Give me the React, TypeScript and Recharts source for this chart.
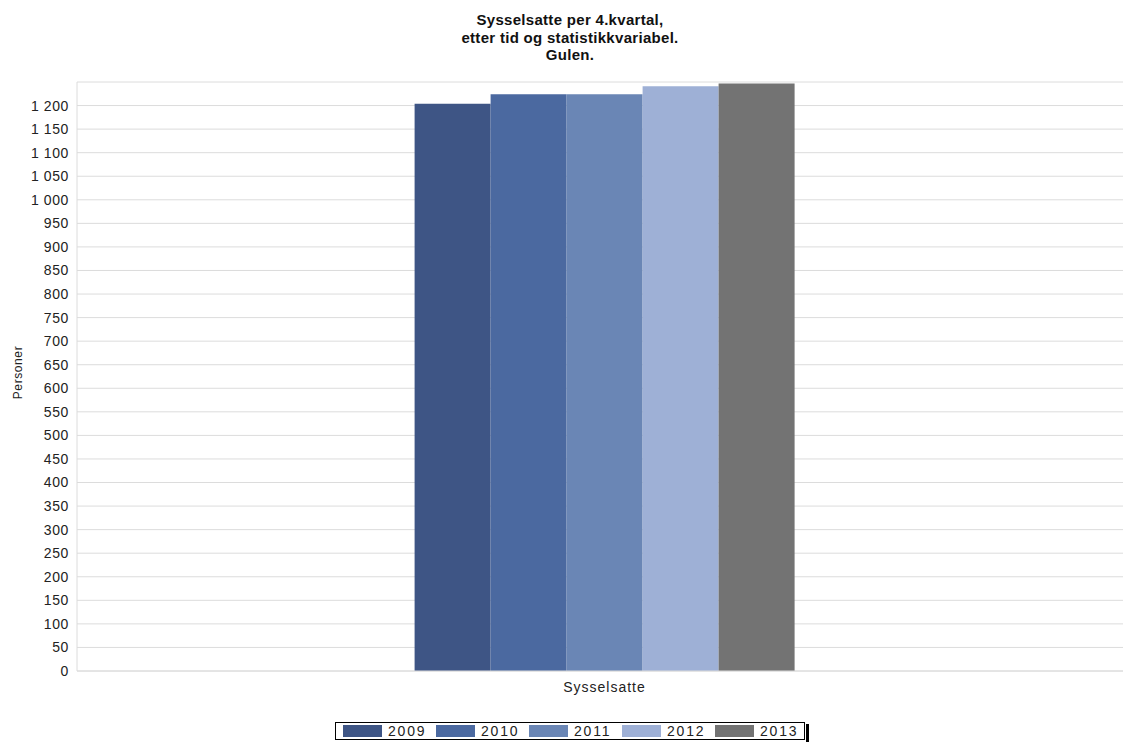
import React from 'react';
import { BarChart, Bar, XAxis, YAxis, CartesianGrid, Legend } from 'recharts';

const categories = ['Sysselsatte'];
const years = ['2009', '2010', '2011', '2012', '2013'];
const values = [1204, 1224, 1224, 1241, 1247];
const colors = ['#3e5585', '#4b69a0', '#6a86b5', '#9eb0d6', '#737373'];
const yTicks = [0, 50, 100, 150, 200, 250, 300, 350, 400, 450, 500, 550, 600, 650, 700, 750, 800, 850, 900, 950, 1000, 1050, 1100, 1150, 1200, 1250];
const titleLines = ['Sysselsatte per 4.kvartal,', 'etter tid og statistikkvariabel.', 'Gulen.'];

const data = categories.map((c) => {
  const row: any = { name: c };
  years.forEach((y, i) => { row[y] = values[i]; });
  return row;
});

const fmt = (v: number) => {
  if (v === 1250) return '';
  const s = String(v);
  return s.length > 3 ? s.slice(0, s.length - 3) + ' ' + s.slice(-3) : s;
};

const renderLegend = () => (
  <div style={{ position: 'relative', width: 473, height: 19 }}>
    <div style={{ position: 'absolute', left: 0, top: 0, width: 470, height: 18, border: '1px solid #000', background: '#fff', boxSizing: 'border-box' }} />
    <div style={{ position: 'absolute', left: 471, top: 2, width: 3, height: 18, background: '#000' }} />
    {years.map((y, i) => (
      <div key={y} style={{ position: 'absolute', left: 8 + i * 93, top: 3, display: 'flex', alignItems: 'center' }}>
        <div style={{ width: 39, height: 12, background: colors[i] }} />
        <span style={{ marginLeft: 6, fontSize: 14, letterSpacing: 1.8, lineHeight: '12px', color: '#222', fontFamily: 'Liberation Sans, Arial, sans-serif' }}>{y}</span>
      </div>
    ))}
  </div>
);

export default function App() {
  return (
    <div style={{ position: 'fixed', left: 0, top: 0, width: 1123, height: 742, overflow: 'hidden', background: '#fff', fontFamily: 'Liberation Sans, Arial, sans-serif' }}>
      <div style={{ position: 'absolute', left: 0, top: 11, width: 1140, textAlign: 'center', fontWeight: 'bold', fontSize: 15, letterSpacing: 0.3, lineHeight: '17.5px', color: '#111', zIndex: 2 }}>
        {titleLines.map((l) => <div key={l}>{l}</div>)}
      </div>
      <BarChart width={1140} height={742} data={data} margin={{ top: 82, right: 8, bottom: 21, left: 0 }} barCategoryGap="32%" barGap={0}>
        <CartesianGrid vertical={false} stroke="#dcdcdc" />
        <XAxis dataKey="name" tickLine={false} axisLine={{ stroke: '#dcdcdc' }} height={30} tick={{ fontSize: 14, fill: '#222', letterSpacing: 1 }} tickMargin={5} />
        <YAxis
          width={77}
          domain={[0, 1250]}
          ticks={yTicks}
          interval={0}
          tickFormatter={fmt}
          tickLine={false}
          axisLine={{ stroke: '#dcdcdc' }}
          tick={{ fontSize: 14, fill: '#222', letterSpacing: 0.6 }}
          tickMargin={2}
          label={{ value: 'Personer', angle: -90, position: 'insideLeft', offset: 18, dy: -4, style: { fontSize: 12, fill: '#222', textAnchor: 'middle', letterSpacing: 0.6 } }}
        />
        {years.map((y, i) => (
          <Bar key={y} dataKey={y} fill={colors[i]} isAnimationActive={false} />
        ))}
        <Legend content={renderLegend} wrapperStyle={{ position: 'absolute', left: 335, top: 722, width: 480, height: 20 }} />
      </BarChart>
    </div>
  );
}
